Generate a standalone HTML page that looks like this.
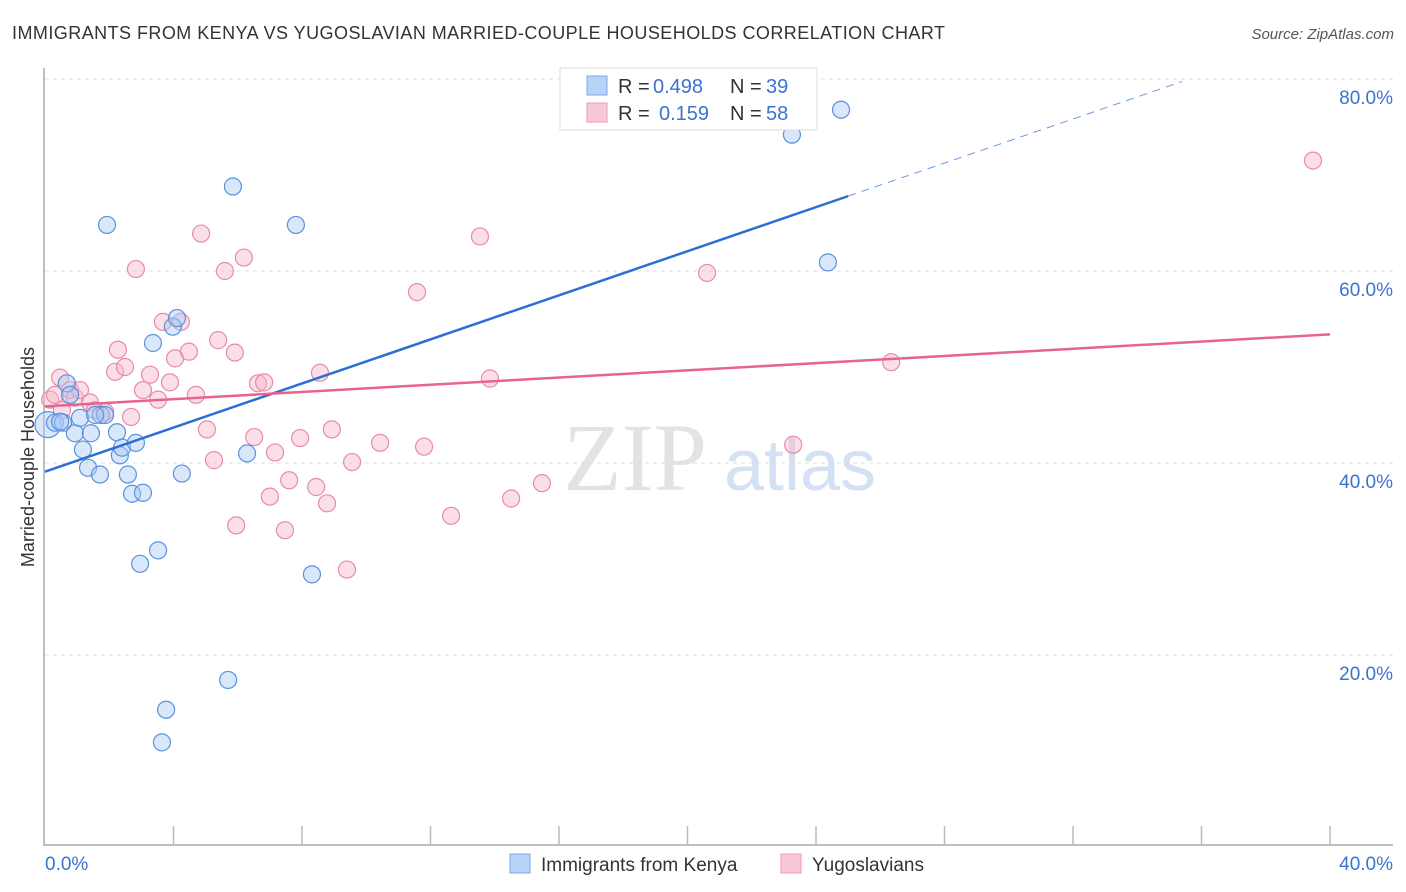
<!DOCTYPE html>
<html><head><meta charset="utf-8"><style>
body{margin:0;background:#fff;font-family:"Liberation Sans",sans-serif;}
svg{display:block}
</style></head><body>
<svg id="chart" width="1406" height="892" xmlns="http://www.w3.org/2000/svg">
<text x="12" y="39" font-size="18" fill="#333" textLength="933">IMMIGRANTS FROM KENYA VS YUGOSLAVIAN MARRIED-COUPLE HOUSEHOLDS CORRELATION CHART</text>
<text x="1394" y="39" font-size="15" fill="#555" font-style="italic" text-anchor="end">Source: ZipAtlas.com</text>
<g>
<text x="635" y="490" font-size="96" fill="#ddd" font-family="Liberation Serif,serif" text-anchor="middle" opacity="0.8">ZIP</text>
<text x="800" y="490" font-size="72" fill="#c9daf0" text-anchor="middle" opacity="0.8">atlas</text>
</g>
<g id="grid"></g>
<g id="axes"></g>
<g id="marks"></g>
<text transform="translate(34,457) rotate(-90)" font-size="18" fill="#333" text-anchor="middle">Married-couple Households</text>
<g>
<rect x="560" y="68" width="257" height="62" fill="#fff" stroke="#ddd"/>
<rect x="587" y="76" width="20" height="19" fill="#b8d3f5" stroke="#7ea8e6"/>
<rect x="587" y="103" width="20" height="19" fill="#f9c8d6" stroke="#ef9ab4"/>
<text y="93" font-size="20" fill="#333"><tspan x="618">R =</tspan><tspan x="653" fill="#3a73d0">0.498</tspan><tspan x="730">N =</tspan><tspan x="766" fill="#3a73d0">39</tspan></text>
<text y="120" font-size="20" fill="#333"><tspan x="618">R =</tspan><tspan x="659" fill="#3a73d0">0.159</tspan><tspan x="730">N =</tspan><tspan x="766" fill="#3a73d0">58</tspan></text>
</g>
<g>
<rect x="510" y="854" width="20" height="19" fill="#b8d3f5" stroke="#7ea8e6"/>
<text x="541" y="871" font-size="19" fill="#333">Immigrants from Kenya</text>
<rect x="781" y="854" width="20" height="19" fill="#f9c8d6" stroke="#ef9ab4"/>
<text x="812" y="871" font-size="19" fill="#333">Yugoslavians</text>
</g>
</svg>
<script>
const yTicks=[20,40,60,80];
const xTickLabels=["0.0%","40.0%"];
const kenyaX=[0.09,0.31,0.56,0.68,0.78,0.93,1.18,1.34,1.43,1.71,1.74,1.87,1.93,2.24,2.33,2.40,2.58,2.71,2.83,3.05,3.36,3.52,2.96,3.64,3.77,3.98,4.11,4.26,5.70,5.85,6.29,7.81,8.31,23.25,24.37,24.78,1.09,1.56,0.47];
const kenyaY=[44.0,44.2,44.2,48.3,47.1,43.1,41.4,39.5,43.1,38.8,45.0,45.0,64.8,43.2,40.8,41.6,38.8,36.8,42.1,36.9,52.5,30.9,29.5,10.9,14.3,54.2,55.1,38.9,17.4,68.8,41.0,64.8,28.4,74.2,60.9,76.8,44.7,45.0,44.3];
const yugoX=[0.16,0.31,0.47,0.53,0.78,0.93,1.09,1.40,1.56,1.87,2.18,2.27,2.49,2.68,2.83,3.05,3.27,3.52,3.67,3.89,4.05,4.23,4.48,4.70,4.86,5.04,5.26,5.39,5.60,5.91,5.95,6.19,6.51,6.63,6.82,7.00,7.16,7.47,7.60,7.94,8.44,8.56,8.78,8.93,9.40,9.56,10.43,11.58,11.80,12.64,13.54,13.85,14.51,15.47,20.61,23.29,26.34,39.47];
const yugoY=[46.6,47.1,48.9,45.5,47.6,46.8,47.6,46.3,45.5,45.3,49.5,51.8,50.0,44.8,60.2,47.6,49.2,46.6,54.7,48.4,50.9,54.7,51.6,47.1,63.9,43.5,40.3,52.8,60.0,51.5,33.5,61.4,42.7,48.3,48.4,36.5,41.1,33.0,38.2,42.6,37.5,49.4,35.8,43.5,28.9,40.1,42.1,57.8,41.7,34.5,63.6,48.8,36.3,37.9,59.8,41.9,50.5,71.5];
const kenyaTrend=[39.1,1.148];
const yugoTrend=[45.9,0.1875];
const NS="http://www.w3.org/2000/svg";
const X=v=>45+v/40*1285, Y=v=>847-v/20*192;
function mk(t,a,p){const e=document.createElementNS(NS,t);for(const k in a)e.setAttribute(k,a[k]);p.appendChild(e);return e;}
const grid=document.getElementById('grid'),axes=document.getElementById('axes'),marks=document.getElementById('marks');
yTicks.forEach(t=>{
 const l=mk('line',{x1:45,x2:1393,y1:Y(t),y2:Y(t),stroke:'#ddd','stroke-dasharray':'4 4'},grid);
 
 
 const tx=mk('text',{x:1393,y:Y(t)+25,'font-size':19,fill:'#3a73d0','text-anchor':'end'},axes);
 tx.textContent=t.toFixed(1)+'%';
 
 
});
const ax=mk('path',{d:'M44,68 V845 H1393',fill:'none',stroke:'#aaa','stroke-width':1.5},axes);


for(let i=1;i<=10;i++){
 const tk=mk('line',{x1:X(i*4),x2:X(i*4),y1:826,y2:845,stroke:'#bbb','stroke-width':1.5},axes);
 
 
}
[[45,'start',0],[1393,'end',1]].forEach(([x,a,i])=>{
 const tx=mk('text',{x:x,y:870,'font-size':19,fill:'#3a73d0','text-anchor':a},axes);
 tx.textContent=xTickLabels[i];
 
 
});
function pts(xs,ys,fill,stroke,name){
 xs.forEach((x,i)=>{
  const c=mk('circle',{cx:X(x),cy:Y(ys[i]),r:(name==='kenya-point'&&i===0)?13:8.5,fill:fill,'fill-opacity':0.45,stroke:stroke,'stroke-width':1.2},marks);
  
  
 });
}
pts(yugoX,yugoY,'#f6b9cc','#e98aa8','yugoslavian-point');
pts(kenyaX,kenyaY,'#a9c9f2','#5b91de','kenya-point');
const kEnd=25, kDash=35.4;
let l=mk('line',{x1:X(0),y1:Y(kenyaTrend[0]),x2:X(kEnd),y2:Y(kenyaTrend[0]+kenyaTrend[1]*kEnd),stroke:'#2a6fd6','stroke-width':2.5},marks);


l=mk('line',{x1:X(kEnd),y1:Y(kenyaTrend[0]+kenyaTrend[1]*kEnd),x2:X(kDash),y2:Y(kenyaTrend[0]+kenyaTrend[1]*kDash),stroke:'#6a9be0','stroke-width':1,'stroke-dasharray':'8 6'},marks);


l=mk('line',{x1:X(0),y1:Y(yugoTrend[0]),x2:X(40),y2:Y(yugoTrend[0]+yugoTrend[1]*40),stroke:'#e8648f','stroke-width':2.5},marks);


</script>
</body></html>
